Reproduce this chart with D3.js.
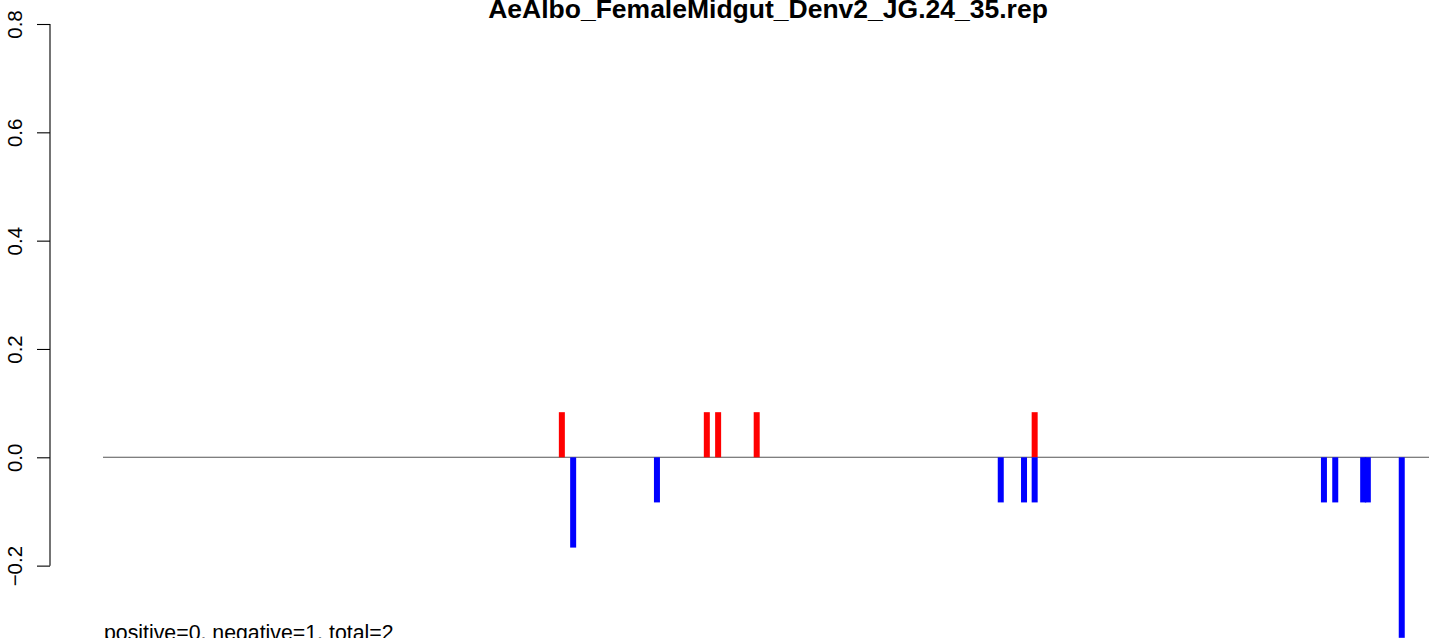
<!DOCTYPE html>
<html>
<head>
<meta charset="utf-8">
<script src="https://cdn.jsdelivr.net/npm/d3@7"></script>
<style>
  html, body { margin: 0; padding: 0; background: #fff; overflow: hidden; }
  svg { display: block; font-family: "Liberation Sans", Arial, sans-serif; }
</style>
</head>
<body>
<svg id="chart" width="1429" height="638"></svg>
<script>
// ---- data ----
const title = "AeAlbo_FemaleMidgut_Denv2_JG.24_35.rep";
const summaryText = "positive=0, negative=1, total=2";
const yTicks = [-0.2, 0.0, 0.2, 0.4, 0.6, 0.8];
// positive-strand (red) positions and values
const posPositions = [690, 908, 925, 983, 1401];
const posValues    = [0.0833, 0.0833, 0.0833, 0.0833, 0.0833];
// negative-strand (blue) positions and values
const negPositions = [707, 833, 1350, 1385, 1401, 1836, 1853, 1895, 1902, 1953];
const negValues    = [-0.1667, -0.0833, -0.0833, -0.0833, -0.0833, -0.0833, -0.0833, -0.0833, -0.0833, -0.3333];
const xDomain = [0, 2000];

// ---- drawing ----
const svg = d3.select("#chart");
const x = d3.scaleLinear().domain(xDomain).range([103, 1433]);
const y = d3.scaleLinear().domain([0, 0.8]).range([457.3, 24]);

// title
svg.append("text")
  .attr("x", 768).attr("y", 18)
  .attr("text-anchor", "middle")
  .style("font-weight", "bold").style("font-size", "26.5px")
  .text(title);

// y axis
const axisG = svg.append("g").attr("transform", "translate(50,0)");
axisG.call(d3.axisLeft(y).tickValues(yTicks).tickSize(13).tickFormat(d3.format(".1f")));
axisG.select(".domain").attr("stroke", "#000").attr("stroke-width", 1.1)
  .attr("d", `M0,${y(0.8)}V${y(-0.2)}`);
axisG.selectAll(".tick line").attr("stroke", "#000").attr("stroke-width", 1.1);
axisG.selectAll(".tick text")
  .attr("x", null).attr("dy", null)
  .attr("transform", "translate(-28,0) rotate(-90)")
  .attr("text-anchor", "middle")
  .attr("fill", "#000")
  .style("font-size", "20.5px")
  .style("font-family", "'Liberation Sans', Arial, sans-serif")
  .text(d => d3.format(".1f")(d).replace("-", "\u2212"));

// baseline
svg.append("line")
  .attr("x1", x(xDomain[0])).attr("x2", x(xDomain[1]))
  .attr("y1", y(0)).attr("y2", y(0))
  .attr("stroke", "#555").attr("stroke-width", 1.1);

// bars
const barW = 6;
svg.append("g").selectAll("rect.pos")
  .data(posPositions.map((p, i) => ({p, v: posValues[i]})))
  .join("rect")
  .attr("x", d => x(d.p) - barW / 2)
  .attr("width", barW)
  .attr("y", d => y(d.v))
  .attr("height", d => y(0) - y(d.v))
  .attr("fill", "#ff0000");

svg.append("g").selectAll("rect.neg")
  .data(negPositions.map((p, i) => ({p, v: negValues[i]})))
  .join("rect")
  .attr("x", d => x(d.p) - barW / 2)
  .attr("width", barW)
  .attr("y", y(0))
  .attr("height", d => y(d.v) - y(0))
  .attr("fill", "#0000ff");

// summary text
svg.append("text")
  .attr("x", 104).attr("y", 640)
  .style("font-size", "21.3px")
  .text(summaryText);
</script>
</body>
</html>
